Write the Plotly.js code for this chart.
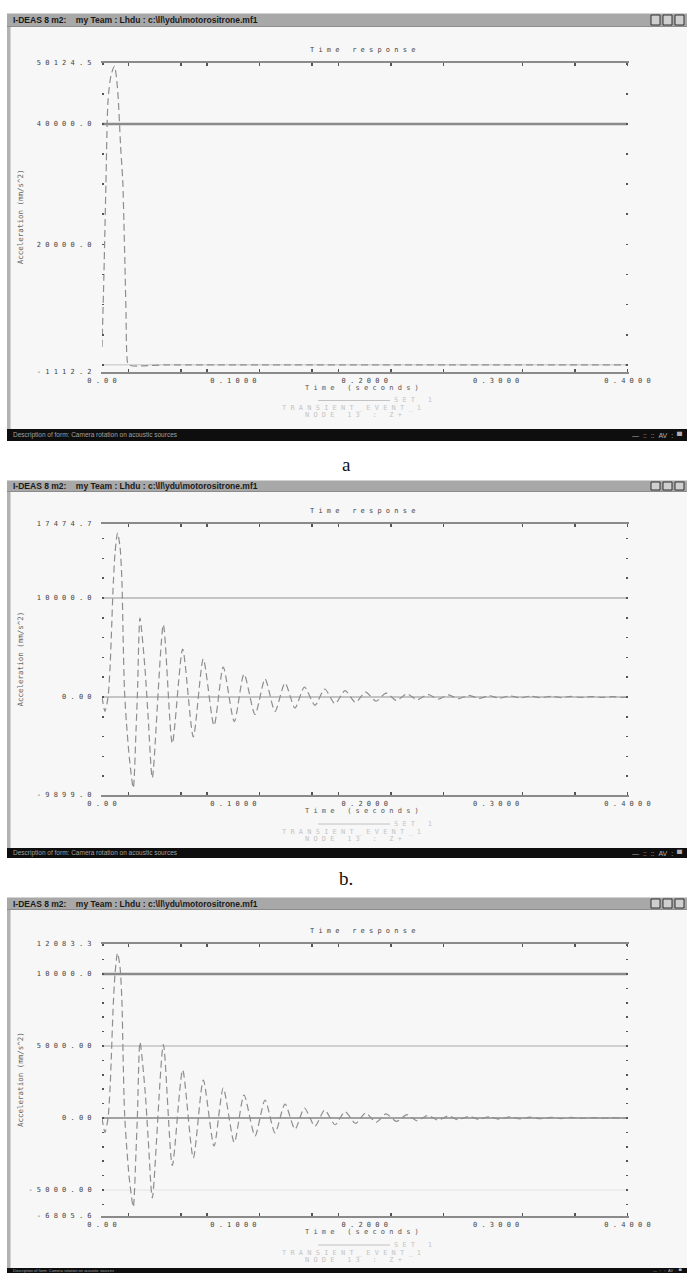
<!DOCTYPE html>
<html>
<head>
<meta charset="utf-8">
<script src="https://cdn.plot.ly/plotly-3.0.1.min.js"></script>
<style>
html,body{margin:0;padding:0;background:#ffffff;}
#chart{width:687px;height:1273px;}
</style>
</head>
<body>
<div id="chart"></div>
<script>
// ---------------- data ----------------
// panel a : time (s) and acceleration
const timeA  = [0, 0.0015, 0.0030, 0.0046, 0.0069, 0.0095, 0.0118, 0.0142, 0.0158, 0.0167, 0.0175, 0.0183, 0.0190, 0.0202, 0.0500, 0.4000];
const accelA = [2960, 15240, 30180, 43960, 48100, 49600, 45950, 36150, 30500, 23540, 16240, 8270, 1300, 0, 0, 0];

// panels b and c share the same time samples
const timeBC = [0, 0.0023, 0.0046, 0.0061, 0.0072, 0.0084, 0.0099, 0.0118, 0.0137, 0.0152,
  0.0160, 0.0171, 0.0186, 0.0209, 0.0238, 0.0259, 0.0270, 0.0289, 0.0327, 0.0352,
  0.0383, 0.0467, 0.0535, 0.0614, 0.0695, 0.0771, 0.0853, 0.0923, 0.1007, 0.1081,
  0.1165, 0.1241, 0.1317, 0.1393, 0.1469, 0.1541, 0.1621, 0.1695, 0.1774, 0.1850,
  0.1930, 0.2007, 0.2086, 0.2162, 0.2242, 0.2322, 0.2398, 0.2481, 0.2558, 0.2637,
  0.2710, 0.2794, 0.2870, 0.2946, 0.3022, 0.3106, 0.3182, 0.3258, 0.3334, 0.3418,
  0.3494, 0.3570, 0.3646, 0.3730, 0.3806, 0.3882, 0.3958, 0.4000];
const accelB = [0, -1450, 0, 2900, 6500, 10900, 14500, 16566, 15200, 11600,
  6500, 700, -2600, -6250, -9190, -3350, 450, 7980, 2900, -2200,
  -8180, 7300, -4700, 4850, -4040, 3840, -2880, 3030, -2480, 2320,
  -1770, 1820, -1460, 1410, -1110, 1010, -840, 810, -680, 640,
  -540, 500, -430, 400, -350, 320, -280, 260, -225, 210,
  -180, 165, -145, 130, -115, 105, -92, 85, -74, 68,
  -59, 55, -47, 44, -38, 35, -30, 0];
const accelC = [0, -1000, 0, 2000, 4500, 7500, 10000, 11458, 10500, 8000,
  4500, 500, -1800, -4300, -6180, -2300, 300, 5278, 2000, -1500,
  -5555, 5100, -3300, 3333, -2778, 2639, -1950, 2083, -1700, 1597,
  -1250, 1250, -1042, 972, -780, 694, -580, 556, -470, 445,
  -375, 356, -300, 285, -240, 228, -192, 182, -155, 146,
  -124, 117, -99, 93, -80, 75, -64, 60, -51, 48,
  -41, 38, -33, 31, -26, 25, -21, 0];

// tick values / labels
const xTickVals  = [0, 0.1, 0.2, 0.3, 0.4];
const xTickText  = ['0.00', '0.1000', '0.2000', '0.3000', '0.4000'];
const xMinorVals = [0.02, 0.06, 0.08, 0.12, 0.16, 0.18, 0.22, 0.26, 0.32, 0.36, 0.4];

const yTickValsA = [50124.5, 40000, 20000, -1112.2];
const yTickTextA = ['50124.5', '40000.0', '20000.0', '-1112.2'];
const yTickValsB = [17474.7, 10000, 0, -9899.0];
const yTickTextB = ['17474.7', '10000.0', '0.00', '-9899.0'];
const yTickValsC = [12083.3, 10000, 5000, 0, -5000, -6805.6];
const yTickTextC = ['12083.3', '10000.0', '5000.00', '0.00', '-5000.00', '-6805.6'];

// texts
const windowTitle = 'I-DEAS 8 m2:\u00a0\u00a0\u00a0\u00a0my Team : Lhdu : c:\\ll\\ydu\\motorositrone.mf1';
const statusText  = 'Description of form: Camera rotation on acoustic sources';
const plotTitle   = 'Time response';
const xTitle      = 'Time (seconds)';
const yTitle      = 'Acceleration (mm/s^2)';
const legendSet   = 'SET 1';
const legendEvent = 'TRANSIENT_EVENT_1';
const legendNode  = 'NODE 13 : Z+';
const captions    = ['a', 'b.', ''];

// ---------------- layout helpers ----------------
const W = 687, H = 1273;
const px = x => x / W;
const py = y => 1 - y / H;
const spaced = s => s.split('').map(c => c === ' ' ? '\u00a0' : c).join(' ');
const MONO = 'DejaVu Sans Mono, monospace';
const SANS = 'Liberation Sans, Arial, sans-serif';

const windows = [
  {titleTop: 13,  titleBot: 27,  statusTop: 429,  statusBot: 441,  plotTop: 63,  plotBot: 371.5, caption: 465},
  {titleTop: 480, titleBot: 492, statusTop: 848,  statusBot: 858,  plotTop: 524, plotBot: 795,   caption: 878},
  {titleTop: 897, titleBot: 910, statusTop: 1268, statusBot: 1273, plotTop: 944, plotBot: 1216,  caption: null}
];
const PLOT_L = 102, PLOT_R = 627.5;

function xAxis(anchor) {
  return {
    domain: [px(PLOT_L), px(PLOT_R)], range: [0, 0.4], anchor: anchor,
    showgrid: false, zeroline: false, showline: true, linecolor: '#8a8a8a', linewidth: 2,
    mirror: 'allticks', ticks: '', tickmode: 'array', tickvals: xTickVals,
    ticktext: xTickText.map(spaced), ticklabelstandoff: 1,
    tickfont: {family: MONO, size: 7, color: '#444'},
    minor: {tickmode: 'array', tickvals: xMinorVals, ticks: 'inside', ticklen: 3, tickwidth: 1.5, tickcolor: '#555', showgrid: false},
    fixedrange: true
  };
}
function yAxis(anchor, w, range, vals, text, minorDtick) {
  return {
    domain: [py(w.plotBot), py(w.plotTop)], range: range, anchor: anchor,
    showgrid: false, zeroline: false, showline: true, linecolor: 'rgba(0,0,0,0)', linewidth: 1,
    mirror: 'allticks',
    ticks: '', tickmode: 'array', tickvals: vals, ticktext: text.map(spaced),
    ticklabelstandoff: 8,
    tickfont: {family: MONO, size: 7, color: '#444'},
    minor: {tickmode: 'linear', tick0: 0, dtick: minorDtick, ticks: 'inside', ticklen: 2, tickwidth: 1.6, tickcolor: '#555', showgrid: false},
    fixedrange: true
  };
}

const lineStyle = {color: '#8e8e8e', width: 1.2, dash: '7px,4px', shape: 'spline', smoothing: 0.7};
const traces = [
  {x: timeA,  y: accelA, xaxis: 'x',  yaxis: 'y',  mode: 'lines', line: lineStyle, hoverinfo: 'skip'},
  {x: timeBC, y: accelB, xaxis: 'x2', yaxis: 'y2', mode: 'lines', line: lineStyle, hoverinfo: 'skip'},
  {x: timeBC, y: accelC, xaxis: 'x3', yaxis: 'y3', mode: 'lines', line: lineStyle, hoverinfo: 'skip'}
];

const shapes = [];
const annotations = [];
function rect(x0, y0, x1, y1, fill, lineColor, lw, layer) {
  shapes.push({type: 'rect', xref: 'paper', yref: 'paper', x0: px(x0), x1: px(x1), y0: py(y1), y1: py(y0),
    fillcolor: fill, line: {color: lineColor || fill, width: lw || 0}, layer: layer || 'below'});
}
function hline(x0, x1, y, color, width) {
  shapes.push({type: 'line', xref: 'paper', yref: 'paper', x0: px(x0), x1: px(x1), y0: py(y), y1: py(y),
    line: {color: color, width: width}, layer: 'below'});
}
function text(t, x, y, opts) {
  annotations.push(Object.assign({text: t, xref: 'paper', yref: 'paper', x: px(x), y: py(y), showarrow: false,
    xanchor: 'center', yanchor: 'middle', borderpad: 0,
    font: {family: MONO, size: 7, color: '#444'}}, opts || {}));
}

windows.forEach((w, i) => {
  const last = (i === windows.length - 1);
  // window body
  rect(7, w.titleBot, 687, w.statusTop, '#f7f7f7');
  rect(7, w.titleBot, 10.5, w.statusTop, '#b2b2b2');
  // title bar
  rect(7, w.titleTop, 687, w.titleBot, '#a8a8a8');
  hline(7, 687, w.titleTop + 0.5, '#d2d2d2', 1);
  hline(7, 687, w.titleBot - 0.5, '#8c8c8c', 1);
  // window buttons
  [651, 663, 675].forEach(bx => rect(bx, w.titleTop + 2, bx + 9, w.titleBot - 2, '#cfcfcf', '#333', 1));
  text('<b>' + windowTitle + '</b>', 12, (w.titleTop + w.titleBot) / 2 + 0.5,
    {xanchor: 'left', font: {family: SANS, size: 8.5, color: '#1a1a1a'}});
  // status bar
  rect(7, w.statusTop, 687, w.statusBot, '#0e0e0e');
  const sy = (w.statusTop + w.statusBot) / 2;
  const sSize = last ? 4 : 6.5;
  text(statusText, 12, sy, {xanchor: 'left', font: {family: SANS, size: sSize, color: '#a0a0a0'}});
  text('\u2014\u00a0\u00a0::\u00a0\u00a0::\u00a0\u00a0AV\u00a0\u00a0:\u00a0\u00a0\u2580', 683, sy,
    {xanchor: 'right', font: {family: SANS, size: last ? 4 : 7, color: '#b0b0b0'}});
  // plot texts
  const cx = 362;
  text(spaced(plotTitle), cx, w.plotTop - 13, {font: {family: MONO, size: 7, color: '#444'}});
  text(spaced(xTitle), cx, w.plotBot + 16, {font: {family: MONO, size: 7, color: '#555'}});
  text(yTitle, 20, (w.plotTop + w.plotBot) / 2, {textangle: -90, font: {family: MONO, size: 7.5, color: '#666'}});
  hline(318, 390, w.plotBot + 29, '#c2c2c2', 1);
  text(spaced(legendSet), 393, w.plotBot + 29, {xanchor: 'left', font: {family: MONO, size: 7, color: '#c4c4c4'}});
  text(spaced(legendEvent), 351, w.plotBot + 37, {font: {family: MONO, size: 7, color: '#c4c4c4'}});
  text(spaced(legendNode), 353, w.plotBot + 43.5, {font: {family: MONO, size: 7, color: '#c4c4c4'}});
  if (captions[i]) {
    text(captions[i], 346, w.caption, {font: {family: 'Liberation Serif, Times New Roman, serif', size: 19, color: '#111'}});
  }
});

// grid lines on data values
function grid(xr, yr, v, color, width) {
  shapes.push({type: 'line', xref: xr, yref: yr, x0: 0, x1: 0.4, y0: v, y1: v, line: {color: color, width: width}, layer: 'below'});
}
grid('x', 'y', yTickValsA[1], '#8a8a8a', 2.5);
grid('x', 'y', 0, '#d4d4d4', 1.5);
grid('x2', 'y2', yTickValsB[1], '#c4c4c4', 2);
grid('x2', 'y2', yTickValsB[2], '#c4c4c4', 2);
grid('x3', 'y3', yTickValsC[1], '#8a8a8a', 2.5);
grid('x3', 'y3', yTickValsC[2], '#d0d0d0', 2);
grid('x3', 'y3', yTickValsC[3], '#a2a2a2', 2);
grid('x3', 'y3', yTickValsC[4], '#e4e4e4', 1);

const layout = {
  width: W, height: H, autosize: false,
  margin: {l: 0, r: 0, t: 0, b: 0, pad: 0},
  paper_bgcolor: '#ffffff', plot_bgcolor: '#f7f7f7',
  showlegend: false,
  xaxis:  xAxis('y'),
  xaxis2: xAxis('y2'),
  xaxis3: xAxis('y3'),
  yaxis:  yAxis('x',  windows[0], [yTickValsA[3], yTickValsA[0]], yTickValsA, yTickTextA, 5000),
  yaxis2: yAxis('x2', windows[1], [yTickValsB[3], yTickValsB[0]], yTickValsB, yTickTextB, 2000),
  yaxis3: yAxis('x3', windows[2], [yTickValsC[5], yTickValsC[0]], yTickValsC, yTickTextC, 1000),
  shapes: shapes,
  annotations: annotations
};

Plotly.newPlot('chart', traces, layout, {displayModeBar: false, staticPlot: true});
</script>
</body>
</html>
